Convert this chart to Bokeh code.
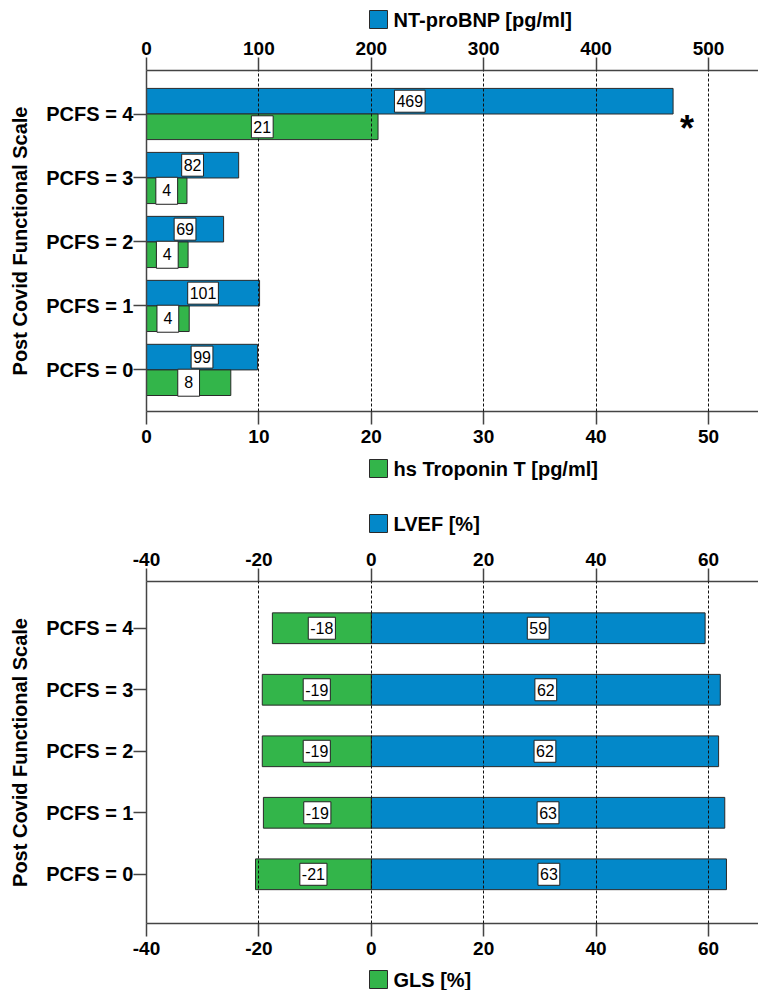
from bokeh.plotting import figure
from bokeh.models import Range1d, LinearAxis, FixedTicker, ColumnDataSource, Label
from bokeh.core.properties import value
from bokeh.transform import dodge
from bokeh.layouts import column
from bokeh.embed import file_html
from bokeh.resources import INLINE

# ---------------- data ----------------
categories = ["PCFS = 0", "PCFS = 1", "PCFS = 2", "PCFS = 3", "PCFS = 4"]
nt_probnp = [98.8, 100.6, 68.6, 82.0, 468.5]      # pg/ml (top axis)
troponin = [7.5, 3.8, 3.7, 3.6, 20.6]             # pg/ml (bottom axis)
nt_labels = ["99", "101", "69", "82", "469"]
trop_labels = ["8", "4", "4", "4", "21"]
lvef = [63.2, 62.9, 61.8, 62.1, 59.4]             # %
gls = [-20.6, -19.2, -19.4, -19.4, -17.6]         # %
lvef_labels = ["63", "63", "62", "62", "59"]
gls_labels = ["-21", "-19", "-19", "-19", "-18"]
nt_ticks = [0, 100, 200, 300, 400, 500]
trop_ticks = [0, 10, 20, 30, 40, 50]
echo_ticks = [-40, -20, 0, 20, 40, 60]
significant = [False, False, False, False, True]

# ---------------- style ----------------
BLUE = "#0388C9"
GREEN = "#33B54A"
EDGE = "#2a2a2a"
AX = "#444444"
FONT = "Liberation Sans"
W = 758
LEFT = 146


def pad(s):
    return s if len(s) > 1 else f"\u00a0{s}\u00a0"


def style_x(ax, ticks, standoff):
    ax.ticker = FixedTicker(ticks=ticks)
    ax.major_label_overrides = {t: str(t) for t in ticks}
    ax.axis_line_color = AX
    ax.axis_line_width = 1.5
    ax.major_tick_line_color = AX
    ax.major_tick_line_width = 1.5
    ax.major_tick_out = 13
    ax.major_tick_in = 0
    ax.minor_tick_line_color = None
    ax.major_label_standoff = standoff
    ax.major_label_text_font = FONT
    ax.major_label_text_font_style = "bold"
    ax.major_label_text_font_size = "19px"
    ax.major_label_text_color = "black"


def style_y(ax):
    ax.ticker = FixedTicker(ticks=list(range(len(categories))))
    ax.major_label_overrides = {i: c for i, c in enumerate(categories)}
    ax.axis_line_color = AX
    ax.axis_line_width = 1.5
    ax.major_tick_line_color = AX
    ax.major_tick_line_width = 1.5
    ax.major_tick_out = 13
    ax.major_tick_in = 0
    ax.minor_tick_line_color = None
    ax.major_label_standoff = 0
    ax.major_label_text_font = FONT
    ax.major_label_text_font_style = "bold"
    ax.major_label_text_font_size = "20px"
    ax.major_label_text_color = "black"
    ax.axis_label = "Post Covid Functional Scale"
    ax.axis_label_text_font = FONT
    ax.axis_label_text_font_style = "bold"
    ax.axis_label_text_font_size = "20px"
    ax.axis_label_text_color = "black"
    ax.axis_label_standoff = 12


def value_labels(p, x, y, text, src, **kw):
    p.text(x=x, y=y, text=text, source=src, text_font=value(FONT),
           text_font_size="16px", text_align="center", text_baseline="middle",
           text_color="black", background_fill_color="white",
           border_line_color="#222222", border_line_width=1, padding=(2, 5),
           level="annotation", **kw)


def legend_strip(height, cy, color, text):
    """A thin strip holding one legend entry (coloured box + bold text)."""
    lp = figure(width=W, height=height, x_range=Range1d(LEFT, W), y_range=Range1d(0, height),
                x_axis_location=None, y_axis_location=None, output_backend="svg",
                toolbar_location=None, min_border=0, min_border_left=LEFT, min_border_right=0,
                min_border_top=0, min_border_bottom=0)
    lp.outline_line_color = None
    lp.grid.visible = False
    src = ColumnDataSource(dict(x=[378], tx=[393], y=[height - cy], t=[text]))
    lp.rect(x="x", y="y", width=18, height=18, width_units="screen", height_units="screen",
            source=src, fill_color=color, line_color=EDGE, line_width=1)
    lp.text(x="tx", y="y", text="t", source=src, text_font=value(FONT), text_font_size="20px",
            text_font_style="bold", text_align="left", text_baseline="middle", text_color="black")
    return lp


# ---------------- figure 1: lab values ----------------
y_idx = list(range(len(categories)))
src1 = ColumnDataSource(dict(
    y=y_idx, nt=nt_probnp, trop=troponin,
    nt_mid=[v / 2 for v in nt_probnp], trop_mid=[v / 2 for v in troponin],
    nt_lab=[pad(s) for s in nt_labels], trop_lab=[pad(s) for s in trop_labels],
))

X1_END = 544.5
Y1 = (-0.65, 4.68)
p1 = figure(width=W, height=425, x_range=Range1d(0, X1_END), y_range=Range1d(*Y1),
            x_axis_location="above", output_backend="svg", toolbar_location=None,
            min_border_left=LEFT, min_border_right=0, min_border_top=39, min_border_bottom=45)
p1.extra_x_ranges = {"trop": Range1d(0, X1_END / 10)}
p1.outline_line_color = None
p1.background_fill_color = "white"
p1.border_fill_color = "white"

style_x(p1.xaxis[0], nt_ticks, 3)
bottom_ax = LinearAxis(x_range_name="trop")
style_x(bottom_ax, trop_ticks, 5)
p1.add_layout(bottom_ax, "below")
style_y(p1.yaxis[0])

p1.ygrid.visible = False
p1.xgrid.ticker = FixedTicker(ticks=nt_ticks[1:])
p1.xgrid.grid_line_color = "#111111"
p1.xgrid.grid_line_dash = "3 2"
p1.xgrid.grid_line_width = 1
p1.xgrid.level = "guide"

p1.hbar(y=dodge("y", 0.2), left=0, right="nt", height=0.4, source=src1,
        fill_color=BLUE, line_color=EDGE, line_width=1)
p1.hbar(y=dodge("y", -0.2), left=0, right="trop", height=0.4, source=src1,
        fill_color=GREEN, line_color=EDGE, line_width=1, x_range_name="trop")

value_labels(p1, "nt_mid", dodge("y", 0.2), "nt_lab", src1)
value_labels(p1, "trop_mid", dodge("y", -0.2), "trop_lab", src1, x_range_name="trop")

for i, sig in enumerate(significant):
    if sig:
        p1.add_layout(Label(x=nt_probnp[i] + 12.5, y=i - 0.22, text="*", text_font=FONT,
                            text_font_style="bold", text_font_size="36px",
                            text_align="center", text_baseline="alphabetic", text_color="black"))

# ---------------- figure 2: echo values ----------------
src2 = ColumnDataSource(dict(
    y=y_idx, lvef=lvef, gls=gls,
    lvef_mid=[v / 2 for v in lvef], gls_mid=[v / 2 for v in gls],
    lvef_lab=lvef_labels, gls_lab=gls_labels,
))

Y2 = (-0.80, 4.76)
p2 = figure(width=W, height=430, x_range=Range1d(-40, 68.9), y_range=Range1d(*Y2),
            x_axis_location="above", output_backend="svg", toolbar_location=None,
            min_border_left=LEFT, min_border_right=0, min_border_top=43, min_border_bottom=45)
p2.outline_line_color = None
p2.background_fill_color = "white"
p2.border_fill_color = "white"

style_x(p2.xaxis[0], echo_ticks, 3)
bottom_ax2 = LinearAxis()
style_x(bottom_ax2, echo_ticks, 5)
p2.add_layout(bottom_ax2, "below")
style_y(p2.yaxis[0])

p2.ygrid.visible = False
p2.xgrid.ticker = FixedTicker(ticks=echo_ticks[1:])
p2.xgrid.grid_line_color = "#111111"
p2.xgrid.grid_line_dash = "3 2"
p2.xgrid.grid_line_width = 1
p2.xgrid.level = "guide"

p2.hbar(y="y", left=0, right="lvef", height=0.5, source=src2,
        fill_color=BLUE, line_color=EDGE, line_width=1)
p2.hbar(y="y", left="gls", right=0, height=0.5, source=src2,
        fill_color=GREEN, line_color=EDGE, line_width=1)

value_labels(p2, "lvef_mid", "y", "lvef_lab", src2)
value_labels(p2, "gls_mid", "y", "gls_lab", src2)

# ---------------- legend strips ----------------
leg1_top = legend_strip(31, 19, BLUE, "NT-proBNP [pg/ml]")
leg1_bot = legend_strip(24, 12, GREEN, "hs Troponin T [pg/ml]")
leg2_top = legend_strip(58, 43, BLUE, "LVEF [%]")
leg2_bot = legend_strip(22, 11, GREEN, "GLS [%]")

layout = column(leg1_top, p1, leg1_bot, leg2_top, p2, leg2_bot, spacing=0)
open("out.html", "w").write(file_html(layout, INLINE))
